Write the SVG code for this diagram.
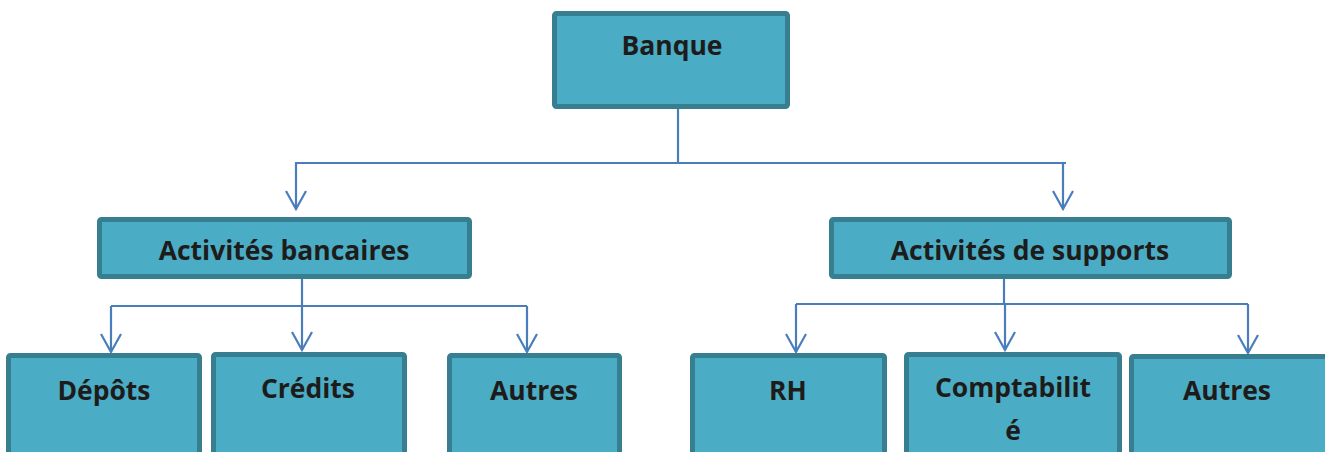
<svg xmlns="http://www.w3.org/2000/svg" width="1325" height="452" viewBox="0 0 1325 452">
<defs>
<style>
.box{fill:#4BACC6;stroke:#367E90;stroke-width:5}
.lbl{font-family:"Open Sans","Noto Sans","Liberation Sans",sans-serif;font-weight:bold;font-size:26.5px;fill:#1E1C1A;text-anchor:middle}
.ln{fill:none;stroke:#4A7EBB;stroke-width:2.2}
</style>
<marker id="arr" markerUnits="userSpaceOnUse" markerWidth="40" markerHeight="40" refX="0" refY="0" viewBox="-20 -20 40 40" orient="auto" overflow="visible">
<path d="M-18,-10 L0,0 L-18,10" fill="none" stroke="#4A7EBB" stroke-width="2.2"/>
</marker>
</defs>
<rect width="1325" height="452" fill="#FFFFFF"/>
<g id="connectors">
<path class="ln" d="M678,109 V163"/>
<path class="ln" d="M295,163 H1066"/>
<path class="ln" d="M296,163 V209" marker-end="url(#arr)"/>
<path class="ln" d="M1063,163 V209" marker-end="url(#arr)"/>
<path class="ln" d="M302,279 V306"/>
<path class="ln" d="M111,306 H527"/>
<path class="ln" d="M111,306 V352" marker-end="url(#arr)"/>
<path class="ln" d="M302,306 V350" marker-end="url(#arr)"/>
<path class="ln" d="M527,306 V352" marker-end="url(#arr)"/>
<path class="ln" d="M1004,279 V304"/>
<path class="ln" d="M796,304 H1248"/>
<path class="ln" d="M796,304 V352" marker-end="url(#arr)"/>
<path class="ln" d="M1005,304 V350" marker-end="url(#arr)"/>
<path class="ln" d="M1248,304 V353" marker-end="url(#arr)"/>
</g>
<g id="banque">
<rect class="box" x="554.5" y="13.5" width="233" height="93" rx="2"/>
<text class="lbl" x="672" y="55">Banque</text>
</g>
<g id="activites-bancaires">
<rect class="box" x="99.5" y="219.5" width="370" height="57" rx="2"/>
<text class="lbl" x="284" y="260">Activités bancaires</text>
</g>
<g id="activites-supports">
<rect class="box" x="831.5" y="219.5" width="398" height="57" rx="2"/>
<text class="lbl" x="1030" y="260">Activités de supports</text>
</g>
<g id="depots">
<rect class="box" x="8.5" y="355.5" width="191" height="120" rx="2"/>
<text class="lbl" x="104" y="400">Dépôts</text>
</g>
<g id="credits">
<rect class="box" x="213.5" y="354.5" width="191" height="120" rx="2"/>
<text class="lbl" x="308" y="398">Crédits</text>
</g>
<g id="autres-1">
<rect class="box" x="449.5" y="355.5" width="170" height="120" rx="2"/>
<text class="lbl" x="534" y="400">Autres</text>
</g>
<g id="rh">
<rect class="box" x="692.5" y="355.5" width="192" height="120" rx="2"/>
<text class="lbl" x="788" y="400">RH</text>
</g>
<g id="comptabilite">
<rect class="box" x="906.5" y="354.5" width="213" height="120" rx="2"/>
<text class="lbl" x="1013" y="397">Comptabilit<tspan x="1013" y="440">é</tspan></text>
</g>
<g id="autres-2">
<rect class="box" x="1131.5" y="356.5" width="200" height="120" rx="2"/>
<text class="lbl" x="1227" y="400">Autres</text>
</g>
</svg>
